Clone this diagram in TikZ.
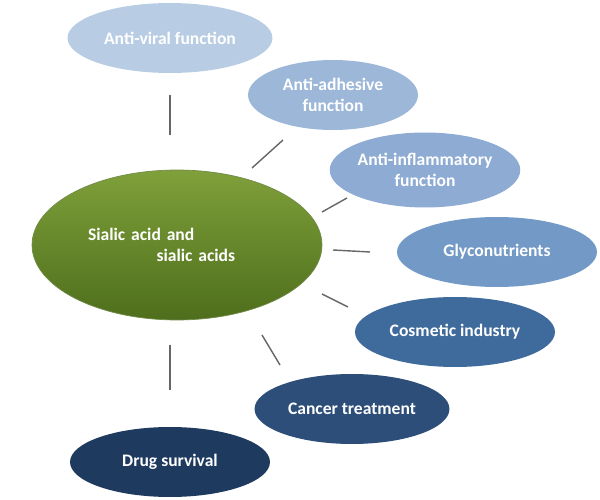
\documentclass[tikz,border=0pt]{standalone}
\usepackage{fontspec}
\setmainfont{Carlito}
\usetikzlibrary{shapes.geometric}
\definecolor{bluea}{HTML}{B8CDE4}
\definecolor{blueb}{HTML}{9DB7D9}
\definecolor{bluec}{HTML}{8DABD3}
\definecolor{blued}{HTML}{7399C6}
\definecolor{bluee}{HTML}{3F6A9C}
\definecolor{bluef}{HTML}{2D4E78}
\definecolor{blueg}{HTML}{1F3A5F}
\definecolor{greena}{HTML}{7FA03A}
\definecolor{greenb}{HTML}{4E6E1C}
\tikzset{
  bubble/.style={ellipse,minimum width=#1,inner sep=0pt,text=white,
    font=\bfseries\fontsize{10}{12}\selectfont,align=center},
  link/.style={draw=black!60,line width=0.8pt}
}
\begin{document}
\begin{tikzpicture}[x=0.02cm,y=-0.02cm]
\useasboundingbox (0,0) rectangle (600,500);
\node[bubble=5.8cm,minimum height=3cm,top color=greena,bottom color=greenb,draw=greenb!80,align=left,text width=3.56cm] (sa) at (177,245) {Sialic acid and\\\hspace*{39pt}sialic acids};
\node[bubble=4.1cm,minimum height=1.4cm,fill=bluea] (av) at (170,38) {Anti-viral function};
\node[bubble=3.4cm,minimum height=1.4cm,fill=blueb] (ad) at (333,95) {Anti-adhesive\\function};
\node[bubble=3.1cm,minimum height=1.5cm,fill=bluec] (ai) at (425,170) {Anti-inflammatory\\function};
\node[bubble=4cm,minimum height=1.4cm,fill=blued] (gl) at (497,252) {Glyconutrients};
\node[bubble=4cm,minimum height=1.4cm,fill=bluee] (co) at (455,332) {Cosmetic industry};
\node[bubble=3.9cm,minimum height=1.4cm,fill=bluef] (ct) at (352,409) {Cancer treatment};
\node[bubble=4cm,minimum height=1.4cm,fill=blueg] (ds) at (170,462) {Drug survival};
% connectors
\coordinate (av1) at (170,95);  \coordinate (av2) at (170,135);
\coordinate (ad1) at (252,168); \coordinate (ad2) at (283,140);
\coordinate (ai1) at (322,212); \coordinate (ai2) at (347,198);
\coordinate (gl1) at (333,250); \coordinate (gl2) at (370,252);
\coordinate (co1) at (322,294); \coordinate (co2) at (348,307);
\coordinate (ct1) at (262,335); \coordinate (ct2) at (280,365);
\coordinate (ds1) at (170,345); \coordinate (ds2) at (170,390);
\foreach \k in {av,ad,ai,gl,co,ct,ds}
  \draw[link] (\k1) -- (\k2);
\end{tikzpicture}
\end{document}
